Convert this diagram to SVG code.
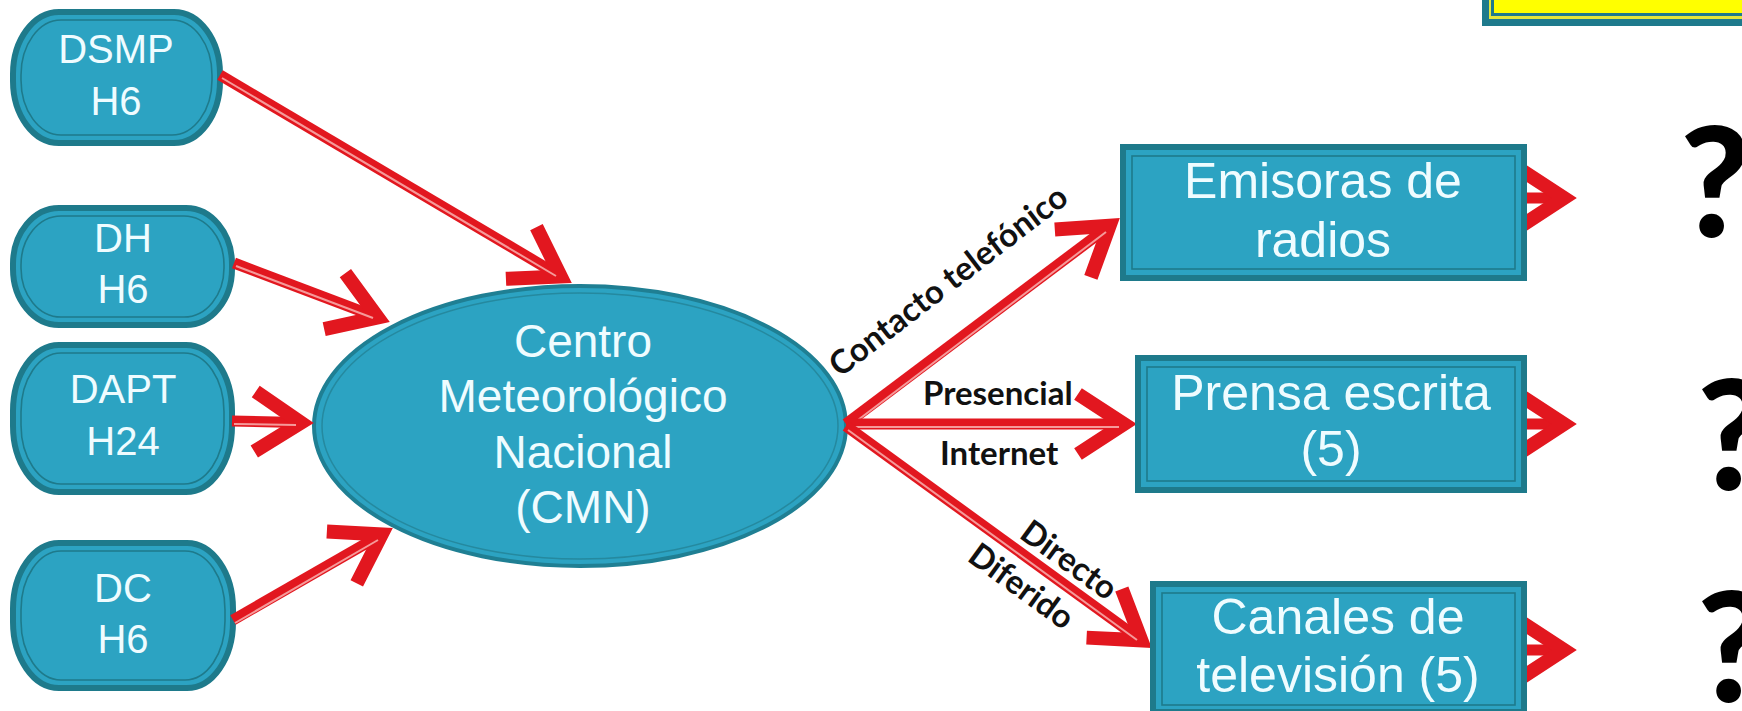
<svg xmlns="http://www.w3.org/2000/svg" width="1742" height="711" viewBox="0 0 1742 711">
<style>
.box{fill:#2ca3c2;stroke:#1e7a8b;stroke-width:6}
.inner{fill:none;stroke:#1e7a8b;stroke-width:1.6}
.t{font-family:"Liberation Sans",Arial,sans-serif;fill:#effcff;text-anchor:middle}
.ts{font-size:40px}
.tm{font-size:46px}
.tb{font-size:50px}
.lbl{font-family:Lato,"Liberation Sans",sans-serif;font-weight:700;font-size:33px;fill:#111}
.q{font-family:Lato,"Liberation Sans",sans-serif;font-weight:900;font-size:152px;fill:#000}
.arr{fill:none;stroke:#e2171f;stroke-width:11}
.stripe{fill:none;stroke:#f59a9a;stroke-width:2}
</style>
<defs>
<marker id="head" markerUnits="userSpaceOnUse" viewBox="-70 -45 90 90" markerWidth="90" markerHeight="90" refX="0" refY="0" orient="auto" overflow="visible">
<path d="M-43,-30 L3,0 L-43,30" fill="none" stroke="#e2171f" stroke-width="14" stroke-linejoin="miter" stroke-miterlimit="10"/>
</marker>
</defs>
<rect width="1742" height="711" fill="#ffffff"/>

<g id="banner">
<rect x="1482" y="-10" width="270" height="36" fill="#1e7a8c"/>
<rect x="1489" y="-10" width="260" height="29" fill="#e4e63a"/>
<rect x="1491" y="-10" width="260" height="26" fill="#1e7a8c"/>
<rect x="1494" y="-10" width="260" height="23" fill="#ffff00"/>
</g>

<g id="n-dsmp">
<rect class="box" x="13" y="12" width="207" height="131" rx="46" ry="62"/>
<rect class="inner" x="21" y="20" width="191" height="115" rx="40" ry="55"/>
<text class="t ts" x="116" y="63">DSMP</text>
<text class="t ts" x="116" y="115">H6</text>
</g>
<g id="n-dh">
<rect class="box" x="13" y="208" width="219" height="117" rx="46" ry="56"/>
<rect class="inner" x="21" y="216" width="203" height="101" rx="40" ry="49"/>
<text class="t ts" x="123" y="252">DH</text>
<text class="t ts" x="123" y="303">H6</text>
</g>
<g id="n-dapt">
<rect class="box" x="13" y="345" width="219" height="147" rx="46" ry="66"/>
<rect class="inner" x="21" y="353" width="203" height="131" rx="40" ry="59"/>
<text class="t ts" x="123" y="403">DAPT</text>
<text class="t ts" x="123" y="455">H24</text>
</g>
<g id="n-dc">
<rect class="box" x="13" y="543" width="220" height="145" rx="46" ry="66"/>
<rect class="inner" x="21" y="551" width="204" height="129" rx="40" ry="59"/>
<text class="t ts" x="123" y="602">DC</text>
<text class="t ts" x="123" y="653">H6</text>
</g>

<g id="n-cmn">
<ellipse cx="580" cy="426" rx="266" ry="140" fill="#2ca3c2" stroke="#1f7f93" stroke-width="4"/>
<ellipse cx="580" cy="426" rx="258" ry="133" fill="none" stroke="#25899f" stroke-width="1.5"/>
<text class="t tm" x="583" y="357">Centro</text>
<text class="t tm" x="583" y="412">Meteorológico</text>
<text class="t tm" x="583" y="468">Nacional</text>
<text class="t tm" x="583" y="523">(CMN)</text>
</g>

<g id="connectors">
<path class="arr" d="M1524,198 L1561,198" marker-end="url(#head)"/>
<path class="arr" d="M1524,424 L1561,424" marker-end="url(#head)"/>
<path class="arr" d="M1524,650 L1561,650" marker-end="url(#head)"/>
<path class="arr" d="M220,75 L558.2,274.9" marker-end="url(#head)"/>
<path class="stripe" d="M222,78 L556,276"/>
<path class="arr" d="M234,263 L375,316.3" marker-end="url(#head)"/>
<path class="stripe" d="M236,266 L373,318"/>
<path class="arr" d="M232,421 L298,422.6" marker-end="url(#head)"/>
<path class="stripe" d="M234,424 L296,425"/>
<path class="arr" d="M233,620 L379.1,536" marker-end="url(#head)"/>
<path class="stripe" d="M235,623 L378,540"/>
<path class="arr" d="M846,424 L1107.2,227.6" marker-end="url(#head)"/>
<path class="stripe" d="M850,426 L1106,232"/>
<path class="arr" d="M846,424 L1121,424" marker-end="url(#head)"/>
<path class="stripe" d="M849,427 L1119,427"/>
<path class="arr" d="M846,426 L1139,638.6" marker-end="url(#head)"/>
<path class="stripe" d="M848,430 L1137,640"/>
</g>

<g id="n-emisoras">
<rect class="box" x="1123" y="147" width="401" height="131"/>
<rect class="inner" x="1132" y="156" width="383" height="113"/>
<text class="t tb" x="1323" y="198">Emisoras de</text>
<text class="t tb" x="1323" y="257">radios</text>
</g>
<g id="n-prensa">
<rect class="box" x="1138" y="358" width="386" height="132"/>
<rect class="inner" x="1147" y="367" width="368" height="114"/>
<text class="t tb" x="1331" y="410">Prensa escrita</text>
<text class="t tb" x="1331" y="466">(5)</text>
</g>
<g id="n-canales">
<rect class="box" x="1153" y="584" width="371" height="128"/>
<rect class="inner" x="1162" y="593" width="353" height="112"/>
<text class="t tb" x="1338" y="634">Canales de</text>
<text class="t tb" x="1338" y="692">televisión (5)</text>
</g>

<g id="labels">
<text class="lbl" transform="translate(840,378) rotate(-37.5)">Contacto telefónico</text>
<text class="lbl" x="923" y="405">Presencial</text>
<text class="lbl" x="940" y="465">Internet</text>
<text class="lbl" transform="translate(1018,537) rotate(36)">Directo</text>
<text class="lbl" transform="translate(966,560) rotate(36)">Diferido</text>
</g>

<g id="questions">
<text class="q" x="1680" y="237">?</text>
<text class="q" x="1697" y="490">?</text>
<text class="q" x="1697" y="702">?</text>
</g>
</svg>
